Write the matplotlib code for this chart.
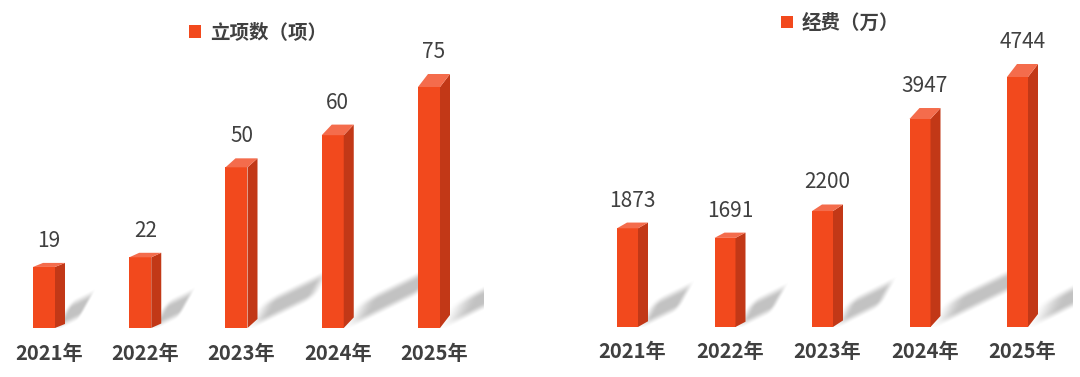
import numpy as np
import matplotlib
matplotlib.use("Agg")
import matplotlib.pyplot as plt
from matplotlib.patches import Polygon, Patch

plt.rcParams['font.family'] = ['Noto Sans CJK SC', 'DejaVu Sans']

# data
years = ['2021年', '2022年', '2023年', '2024年', '2025年']
projects = [19, 22, 50, 60, 75]
funding = [1873, 1691, 2200, 3947, 4744]

FRONT = '#F2491D'
SIDE = '#C23817'
TOP = '#F46C4C'
TEXT = '#404040'

W, H = 1080, 377
fig = plt.figure(figsize=(W / 100, H / 100), dpi=100)


def smooth(a, b, x):
    t = np.clip((x - a) / (b - a), 0, 1)
    return t * t * (3 - 2 * t)


def draw_shadow(ax, xr, h_px, step_px, ppu, clip_x):
    # gradient shadow on the floor, worked out in reference pixels
    v = np.array([0.43 * h_px, 0.21 * h_px])
    b = np.array([12.0, 22.0])
    x0 = xr - 4 / step_px
    x1 = min(xr + (v[0] + b[0] + 8) / step_px, clip_x)
    y1 = (v[1] + b[1] + 10) / ppu
    nx = max(int((x1 - x0) * step_px), 2)
    ny = max(int(y1 * ppu), 2)
    X, Y = np.meshgrid(np.linspace(x0, x1, nx), np.linspace(0, y1, ny))
    px = (X - xr) * step_px
    py = Y * ppu
    det = v[0] * b[1] - v[1] * b[0]
    t = (px * b[1] - py * b[0]) / det
    u = (v[0] * py - v[1] * px) / det
    alpha = smooth(-0.05, 0.3, t) * (1 - smooth(0.82, 1.05, t))
    alpha *= smooth(-0.3, 0.25, u) * (1 - smooth(0.7, 1.3, u))
    rgba = np.zeros((ny, nx, 4))
    rgba[..., 3] = 0.24 * alpha
    ax.imshow(rgba, extent=(x0, x1, 0, y1), origin='lower', aspect='auto',
              interpolation='bilinear', zorder=1)


def panel(left, right, values, series, first_px, step_px, base_px, max_px,
          bar_px, clip_px, legend_xy):
    # everything measured in pixels of the reference, converted to data units
    ax = fig.add_axes([left / W, (H - base_px) / H, (right - left) / W, base_px / H])
    vmax = max(values)
    ppu = max_px / vmax  # pixels per value unit
    xlim = ((left - first_px) / step_px, (right - first_px) / step_px)
    ylim = (0, base_px / ppu)
    ax.axis('off')

    x = np.arange(len(values))
    w = bar_px / step_px
    hw = w / 2
    dd = 10 / step_px  # depth of the fake 3d side
    clip_x = (clip_px - first_px) / step_px

    ax.bar(x, values, width=w, color=FRONT, zorder=3)

    for xi, v in zip(x, values):
        dy = (1 + 12 * v / vmax) / ppu
        xr = xi + hw

        draw_shadow(ax, xr, v * ppu, step_px, ppu, clip_x)

        side = Polygon([(xr, 0), (xr + dd, dy), (xr + dd, v + dy), (xr, v)],
                       closed=True, facecolor=SIDE, edgecolor='none', zorder=3)
        top = Polygon([(xi - hw, v), (xr, v), (xr + dd, v + dy), (xi - hw + dd, v + dy)],
                      closed=True, facecolor=TOP, edgecolor='none', zorder=3)
        ax.add_patch(side)
        ax.add_patch(top)

        ax.annotate(f'{v}', xy=(xi + dd / 2, v + dy), xytext=(0, 22 * 0.72),
                    textcoords='offset points', ha='center', va='center',
                    fontsize=15, color=TEXT)

    for xi, lab in zip(x, years):
        ax.annotate(lab, xy=(xi + dd / 2, 0), xytext=(0, -25 * 0.72),
                    textcoords='offset points', ha='center', va='center',
                    fontsize=14.5, fontweight='bold', color=TEXT, annotation_clip=False)

    ax.set_xlim(xlim)
    ax.set_ylim(ylim)

    ax.legend(handles=[Patch(facecolor=FRONT, label=series)], loc='center',
              bbox_to_anchor=(legend_xy[0] / W, 1 - legend_xy[1] / H),
              bbox_transform=fig.transFigure, frameon=False,
              handlelength=0.6, handleheight=0.6, handletextpad=0.45,
              prop=dict(size=14, weight='bold'), labelcolor=TEXT)
    return ax


panel(0, 540, projects, '立项数（项）', 44, 96.25, 328, 241, 22, 484, (258, 33))
panel(540, 1080, funding, '经费（万）', 627.5, 97.5, 327, 250, 21, 1073, (840, 23))

fig.savefig('out.png', dpi=100)
